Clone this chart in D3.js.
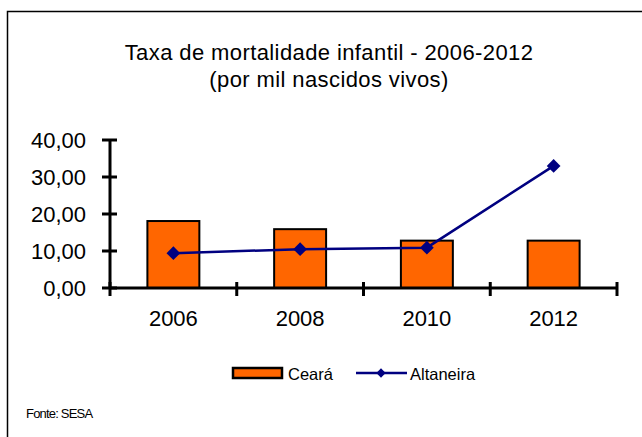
<!DOCTYPE html>
<html>
<head>
<meta charset="utf-8">
<script src="https://cdn.jsdelivr.net/npm/d3@7"></script>
<style>
  body { margin: 0; background: #fff; }
  text { font-family: "Liberation Sans", Arial, sans-serif; fill: #000; }
</style>
</head>
<body>
<div id="chart"></div>
<script>
// data
const years = ["2006", "2008", "2010", "2012"];
const ceara = [18.1, 15.9, 12.8, 12.8];
const altaneira = [9.4, 10.5, 10.9, 33.0];
const yTicks = [0, 10, 20, 30, 40];
const titleLines = ["Taxa de mortalidade infantil - 2006-2012", "(por mil nascidos vivos)"];

const width = 642, height = 437;
const svg = d3.select("#chart").append("svg")
    .attr("width", width)
    .attr("height", height);

// frame (only top and left show in the picture)
svg.append("path")
    .attr("d", "M7.5,437 L7.5,11.5 L642,11.5")
    .style("fill", "none")
    .style("stroke", "#000")
    .style("stroke-width", 1.5);

// title
svg.selectAll(".title").data(titleLines).enter().append("text")
    .attr("x", 329)
    .attr("y", (d, i) => 60 + i * 27)
    .style("text-anchor", "middle")
    .style("font-size", "22px")
    .style("letter-spacing", "0.4px")
    .text(d => d);

const x = d3.scaleBand().domain(years).range([110, 617]).padding(0);
const y = d3.scaleLinear().domain([0, 40]).range([288, 140]);
const barW = x.bandwidth() * 0.41;

// bars
svg.selectAll(".bar").data(ceara).enter().append("rect")
    .attr("x", (d, i) => x(years[i]) + x.bandwidth() / 2 - barW / 2)
    .attr("y", d => y(d))
    .attr("width", barW)
    .attr("height", d => y(0) - y(d))
    .style("fill", "#FF6600")
    .style("stroke", "#000")
    .style("stroke-width", 2);

// y axis
svg.append("line")
    .attr("x1", 110).attr("x2", 110)
    .attr("y1", y(40)).attr("y2", y(0))
    .style("stroke", "#000").style("stroke-width", 3);
yTicks.forEach(t => {
    svg.append("line")
        .attr("x1", 102).attr("x2", 117)
        .attr("y1", y(t)).attr("y2", y(t))
        .style("stroke", "#000").style("stroke-width", 3);
    svg.append("text")
        .attr("x", 86)
        .attr("y", y(t))
        .attr("dy", "0.36em")
        .style("text-anchor", "end")
        .style("font-size", "22px")
        .text(d3.format(".2f")(t).replace(".", ","));
});

// x axis
svg.append("line")
    .attr("x1", 110).attr("x2", 618)
    .attr("y1", y(0)).attr("y2", y(0))
    .style("stroke", "#000").style("stroke-width", 3);
const bounds = years.map(d => x(d)).concat([x.range()[1]]);
bounds.forEach(b => {
    svg.append("line")
        .attr("x1", b).attr("x2", b)
        .attr("y1", y(0) - 6).attr("y2", y(0) + 8)
        .style("stroke", "#000").style("stroke-width", 3);
});
years.forEach(d => {
    svg.append("text")
        .attr("x", x(d) + x.bandwidth() / 2)
        .attr("y", 326)
        .style("text-anchor", "middle")
        .style("font-size", "22px")
        .text(d);
});

// line
const line = d3.line()
    .x((d, i) => x(years[i]) + x.bandwidth() / 2)
    .y(d => y(d));
svg.append("path")
    .datum(altaneira)
    .attr("d", line)
    .style("fill", "none")
    .style("stroke", "#000080")
    .style("stroke-width", 2.5);

const diamond = d3.symbol().type(d3.symbolDiamond2).size(120);
svg.selectAll(".pt").data(altaneira).enter().append("path")
    .attr("d", diamond)
    .attr("transform", (d, i) => `translate(${x(years[i]) + x.bandwidth() / 2},${y(d)})`)
    .style("fill", "#000080");

// legend
svg.append("rect")
    .attr("x", 233).attr("y", 368)
    .attr("width", 49).attr("height", 10)
    .style("fill", "#FF6600")
    .style("stroke", "#000")
    .style("stroke-width", 2.5);
svg.append("text")
    .attr("x", 288).attr("y", 380)
    .style("font-size", "16.5px")
    .text("Ceará");
svg.append("line")
    .attr("x1", 356).attr("x2", 407)
    .attr("y1", 373).attr("y2", 373)
    .style("stroke", "#000080").style("stroke-width", 2.5);
svg.append("path")
    .attr("d", d3.symbol().type(d3.symbolDiamond2).size(55))
    .attr("transform", "translate(381,373)")
    .style("fill", "#000080");
svg.append("text")
    .attr("x", 410).attr("y", 380)
    .style("font-size", "16.5px")
    .text("Altaneira");

// source
svg.append("text")
    .attr("x", 26).attr("y", 418)
    .style("font-size", "13px")
    .style("letter-spacing", "-0.8px")
    .text("Fonte: SESA");
</script>
</body>
</html>
